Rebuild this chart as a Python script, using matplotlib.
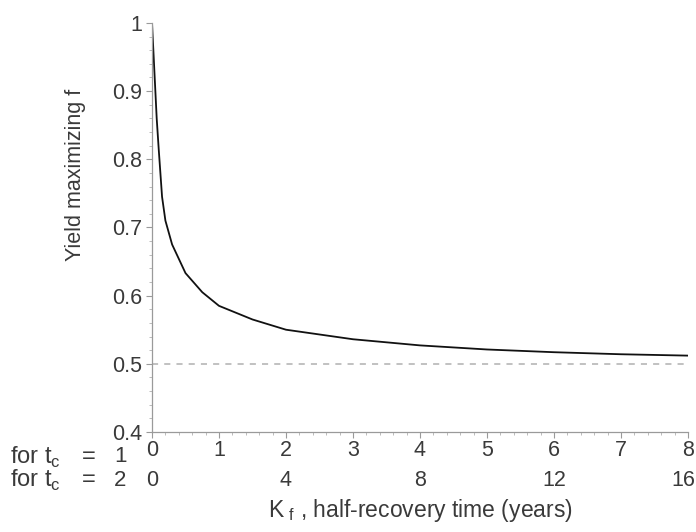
import matplotlib as mpl

mpl.use("Agg")

import matplotlib.pyplot as plt
from matplotlib.ticker import MultipleLocator
import matplotlib.transforms as mtransforms

plt.rcParams["font.family"] = ["Liberation Sans", "DejaVu Sans"]
plt.rcParams["mathtext.fontset"] = "custom"
plt.rcParams["mathtext.rm"] = "Liberation Sans"

TEXT = "#3a3a3a"
AXIS = "#9a9a9a"
FS = 15.5

# half-recovery time (years, t_c = 1) vs yield maximizing f
k_half = [0.0, 0.02, 0.04, 0.07, 0.1, 0.15, 0.2, 0.3, 0.5, 0.75, 1.0,
          1.5, 2.0, 3.0, 4.0, 5.0, 6.0, 7.0, 8.0]
f_opt = [1.0, 0.96, 0.92, 0.86, 0.815, 0.745, 0.71, 0.675, 0.633, 0.605,
         0.585, 0.565, 0.55, 0.536, 0.527, 0.521, 0.517, 0.514, 0.512]

ref_level = 0.5
xticks_tc1 = [0, 1, 2, 3, 4, 5, 6, 7, 8]
xticks_tc2_pos = [0, 2, 4, 6, 8]
xticks_tc2_lab = ["0", "4", "8", "12", "16"]
yticks = [0.4, 0.5, 0.6, 0.7, 0.8, 0.9, 1.0]
ytick_labels = ["0.4", "0.5", "0.6", "0.7", "0.8", "0.9", "1"]
tc_values = ["1", "2"]

fig = plt.figure(figsize=(6.96, 5.32), dpi=100)
ax = fig.add_axes([0.2184, 0.188, 0.770, 0.769])

ax.plot(k_half, f_opt, color="#111111", linewidth=1.3)
ax.plot([0, 8], [ref_level, ref_level], color="#b0b0b0", linewidth=1.1,
        linestyle=(0, (4, 4)))

ax.set_xlim(0, 8)
ax.set_ylim(0.4, 1.0)
for side in ("top", "right"):
    ax.spines[side].set_visible(False)
for side in ("left", "bottom"):
    ax.spines[side].set_color(AXIS)
    ax.spines[side].set_linewidth(0.9)

ax.set_yticks(yticks, ytick_labels)
ax.set_xticks(xticks_tc1, [str(v) for v in xticks_tc1])
ax.yaxis.set_minor_locator(MultipleLocator(0.02))
ax.xaxis.set_minor_locator(MultipleLocator(0.2))
ax.tick_params(axis="both", which="major", length=4, width=0.8, color=AXIS,
               labelsize=FS, labelcolor=TEXT, pad=3)
ax.tick_params(axis="both", which="minor", length=2.5, width=0.7, color="#bbbbbb")
ax.tick_params(axis="x", which="major", pad=2)

# second row of x labels (t_c = 2)
trans = mtransforms.blended_transform_factory(ax.transData, fig.transFigure)
for pos, lab in zip(xticks_tc2_pos, xticks_tc2_lab):
    if pos == xticks_tc2_pos[-1]:
        fig.text(695 / 696, 1 - 480 / 532, lab, ha="right", va="center",
                 fontsize=FS, color=TEXT)
    else:
        ax.text(pos, 1 - 480 / 532, lab, transform=trans, ha="center",
                va="center", fontsize=FS, color=TEXT)

# row captions: "for t_c = 1" / "for t_c = 2"
for row_y, tc in zip([457, 480], tc_values):
    yy = 1 - row_y / 532
    fig.text(10 / 696, yy, r"for t$_\mathregular{c}$", ha="left",
             va="center", fontsize=17, color=TEXT)
    fig.text(89 / 696, yy, "=", ha="center", va="center", fontsize=17,
             color=TEXT)
    fig.text(120 / 696, yy, tc, ha="center", va="center", fontsize=16,
             color=TEXT)

fig.text(420 / 696, 1 - 511 / 532,
         r"K$_\mathregular{\ f}$ , half-recovery time (years)",
         ha="center", va="center", fontsize=16.5, color=TEXT)
fig.text(75 / 696, 1 - 175 / 532, "Yield maximizing f", rotation=90,
         ha="center", va="center", fontsize=FS, color=TEXT)

fig.savefig("out.png", dpi=100)
